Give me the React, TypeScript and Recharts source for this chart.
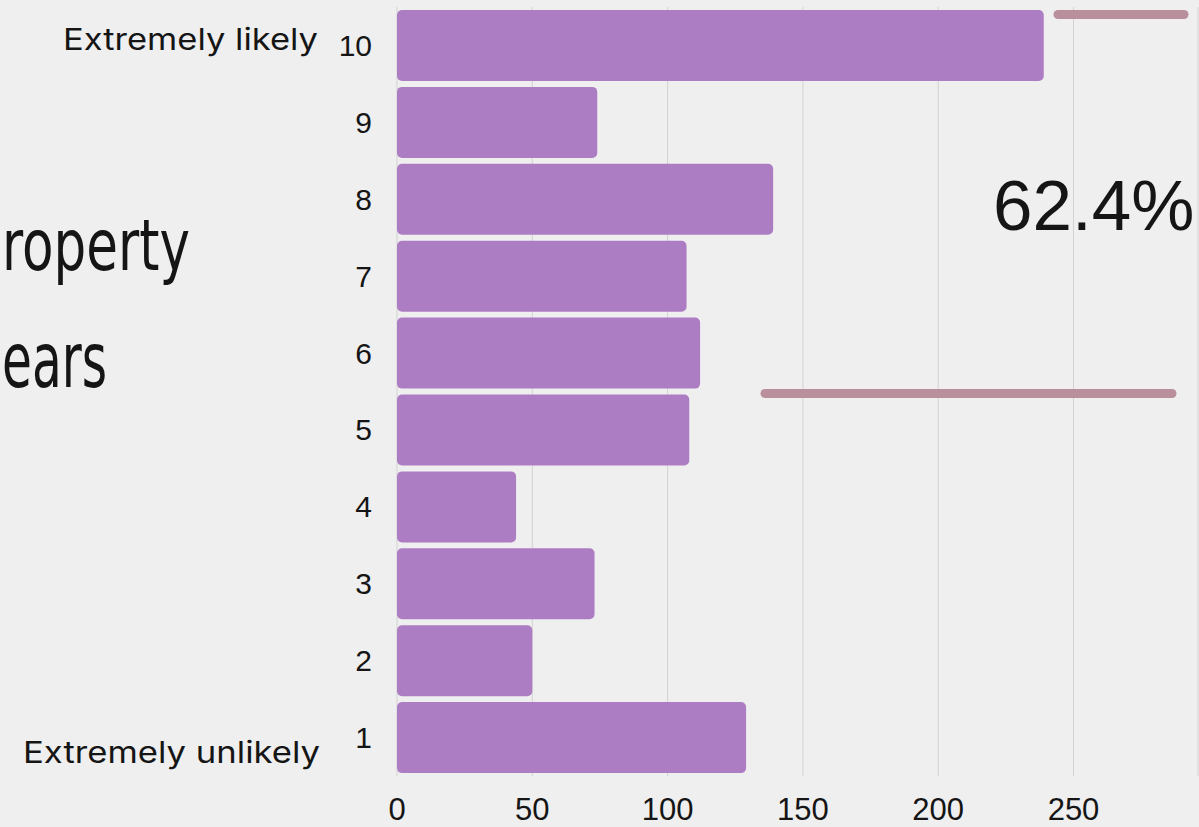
import React from 'react';
import { BarChart, Bar, XAxis, YAxis, CartesianGrid } from 'recharts';

const scores = ['10', '9', '8', '7', '6', '5', '4', '3', '2', '1'];
const counts = [239, 74, 139, 107, 112, 108, 44, 73, 50, 129];
const xTicks = [0, 50, 100, 150, 200, 250];
const topLabel = 'Extremely likely';
const bottomLabel = 'Extremely unlikely';
const headline = '62.4%';
const titleFragments = ['roperty', 'ears'];

const data = scores.map((s, i) => ({ score: s, count: counts[i] }));

const BG = '#efefef';
const BAR = '#ad7dc3';
const DECOR = '#b98f9b';
const TEXT = '#151515';

const YTick = (props: any) => {
  const { x, y, payload } = props;
  const v = String(payload.value);
  return (
    <g>
      <text x={x} y={y} dy={10.5} textAnchor="end" fontFamily="'Liberation Sans', Arial, sans-serif" fontSize={30} fill={TEXT}>
        {v}
      </text>
      {v === scores[0] && (
        <text x={x - 309} y={y} dy={5} textAnchor="start" fontFamily="Inter, 'Noto Sans', sans-serif" fontSize={30} fill={TEXT} textLength={255} lengthAdjust="spacingAndGlyphs">
          {topLabel}
        </text>
      )}
      {v === scores[scores.length - 1] && (
        <text x={x - 349} y={y} dy={25.5} textAnchor="start" fontFamily="Inter, 'Noto Sans', sans-serif" fontSize={30} fill={TEXT} textLength={297} lengthAdjust="spacingAndGlyphs">
          {bottomLabel}
        </text>
      )}
    </g>
  );
};

const XTick = (props: any) => {
  const { x, y, payload } = props;
  return (
    <text x={x} y={y} dy={44} textAnchor="middle" fontFamily="'Liberation Sans', Arial, sans-serif" fontSize={31} fill={TEXT}>
      {payload.value}
    </text>
  );
};

export default function App() {
  return (
    <div style={{ position: 'fixed', left: 0, top: 0, width: 1199, height: 827, background: BG, overflow: 'hidden' }}>
      <BarChart
        width={1199}
        height={827}
        data={data}
        layout="vertical"
        margin={{ top: 7, right: 1, bottom: 0, left: 0 }}
        barCategoryGap={3}
      >
        <CartesianGrid horizontal={false} vertical={true} stroke="#d2d2d2" strokeWidth={1} />
        <XAxis
          type="number"
          domain={[0, 296]}
          ticks={xTicks}
          height={51}
          axisLine={false}
          tickLine={false}
          tickSize={0}
          tickMargin={0}
          tick={<XTick />}
          interval={0}
        />
        <YAxis
          type="category"
          dataKey="score"
          width={397}
          axisLine={false}
          tickLine={false}
          tickSize={0}
          tickMargin={25}
          tick={<YTick />}
          interval={0}
        />
        <Bar dataKey="count" fill={BAR} radius={5} isAnimationActive={false} />
      </BarChart>
      <svg width={1199} height={827} style={{ position: 'absolute', left: 0, top: 0, pointerEvents: 'none' }}>
        <line x1={1058} y1={14.5} x2={1184} y2={14.5} stroke={DECOR} strokeWidth={9} strokeLinecap="round" />
        <line x1={765} y1={393.5} x2={1172} y2={393.5} stroke={DECOR} strokeWidth={9} strokeLinecap="round" />
        <text x={993} y={230} fontFamily="'Liberation Sans', Arial, sans-serif" fontSize={71} fill={TEXT}>
          {headline}
        </text>
        <text x={2} y={270} fontFamily="'DejaVu Sans', sans-serif" fontSize={72} fill={TEXT} textLength={188} lengthAdjust="spacingAndGlyphs">
          {titleFragments[0]}
        </text>
        <text x={2} y={387} fontFamily="'DejaVu Sans', sans-serif" fontSize={76} fill={TEXT} textLength={105} lengthAdjust="spacingAndGlyphs">
          {titleFragments[1]}
        </text>
      </svg>
    </div>
  );
}
